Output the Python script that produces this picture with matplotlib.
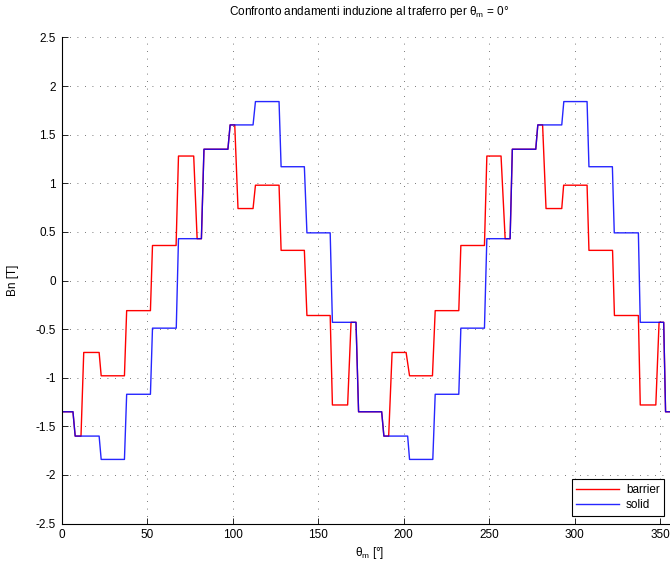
import numpy as np
import matplotlib
matplotlib.use("Agg")
import matplotlib.pyplot as plt

plt.rcParams['font.family'] = ['Liberation Sans', 'DejaVu Sans']
plt.rcParams['mathtext.fontset'] = 'custom'
plt.rcParams['mathtext.rm'] = 'Liberation Sans'
plt.rcParams['mathtext.it'] = 'Liberation Sans'
plt.rcParams['mathtext.bf'] = 'Liberation Sans:bold'

# Step edges of each waveform: (start, end) angle of every transition, in degrees
solid_edges = [(6.7, 8.0), (22.0, 23.2), (36.8, 38.1), (52.0, 53.2), (67.1, 68.4), (81.8, 83.3),
               (97.3, 98.6), (112.0, 113.4), (127.2, 128.4), (142.0, 143.5), (157.1, 158.4), (172.2, 173.7),
               (187.2, 188.5), (202.4, 203.5), (217.1, 218.5), (232.3, 233.5), (247.3, 248.7), (262.3, 263.6),
               (277.3, 278.5), (292.5, 293.7), (307.3, 308.4), (322.1, 323.2), (337.3, 338.4), (352.1, 353.2)]
solid_levels = [-1.35,
                -1.60, -1.84, -1.17, -0.49, 0.43, 1.35, 1.60, 1.84, 1.17, 0.49, -0.43, -1.35,
                -1.60, -1.84, -1.17, -0.49, 0.43, 1.35, 1.60, 1.84, 1.17, 0.49, -0.43, -1.35]

barrier_edges = [(6.7, 8.0), (11.4, 13.0), (22.0, 23.2), (36.8, 38.1), (52.0, 53.2), (67.0, 68.4),
                 (77.3, 79.3), (81.8, 83.3), (97.3, 98.6), (101.3, 103.2), (112.0, 113.4), (127.2, 128.4),
                 (142.0, 143.5), (157.1, 158.4), (167.3, 169.3), (172.2, 173.7),
                 (187.2, 188.5), (191.3, 193.3), (201.5, 203.5), (216.9, 218.5), (232.3, 233.5), (247.3, 248.7),
                 (257.0, 259.4), (262.3, 263.6), (277.3, 278.5), (281.3, 283.3), (292.5, 293.6), (307.3, 308.4),
                 (322.2, 323.3), (337.3, 338.4), (347.5, 349.4), (352.1, 353.2)]
barrier_levels = [-1.35,
                  -1.60, -0.74, -0.98, -0.31, 0.36, 1.28, 0.43, 1.35, 1.60, 0.74, 0.98, 0.31,
                  -0.36, -1.28, -0.43, -1.35,
                  -1.60, -0.74, -0.98, -0.31, 0.36, 1.28, 0.43, 1.35, 1.60, 0.74, 0.98, 0.31,
                  -0.36, -1.28, -0.43, -1.35]

x_ticks = [0, 50, 100, 150, 200, 250, 300, 350]
y_ticks = [-2.5, -2, -1.5, -1, -0.5, 0, 0.5, 1, 1.5, 2, 2.5]
y_ticklabels = ['-2.5', '-2', '-1.5', '-1', '-0.5', '0', '0.5', '1', '1.5', '2', '2.5']


def staircase(edges, levels, x_end=360.0):
    """Build polyline vertices for a stepped waveform with short linear ramps."""
    xs, ys = [0.0], [levels[0]]
    for (a, b), lo, hi in zip(edges, levels[:-1], levels[1:]):
        xs += [a, b]
        ys += [lo, hi]
    xs.append(x_end)
    ys.append(levels[-1])
    return np.array(xs), np.array(ys)


fig = plt.figure(figsize=(6.70, 5.65), dpi=100)
ax = fig.add_axes([61.5 / 670, 41.4 / 565, 615.7 / 670, 486.2 / 565])

xb, yb = staircase(barrier_edges, barrier_levels)
xs, ys = staircase(solid_edges, solid_levels)
ax.plot(xb, yb, color='#ff0000', lw=1.0, label='barrier')
ax.plot(xs, ys, color='#0000ff', lw=1.0, alpha=0.85, label='solid')

ax.set_xlim(0, 360)
ax.set_ylim(-2.5, 2.5)
ax.set_xticks(x_ticks)
ax.set_yticks(y_ticks)
ax.set_yticklabels(y_ticklabels)

for side in ('top', 'right'):
    ax.spines[side].set_visible(False)
for side in ('left', 'bottom'):
    ax.spines[side].set_linewidth(0.8)
    ax.spines[side].set_color('black')

ax.tick_params(direction='in', length=4, width=0.6, labelsize=8.5, colors='black', pad=4)
ax.grid(True, color='0.3', linestyle=(0, (1, 8)), linewidth=0.6)
ax.set_axisbelow(True)

ax.set_title(r'Confronto andamenti induzione al traferro per $\theta_\mathrm{m}$ = 0°',
             fontsize=8.5, pad=16)
ax.set_xlabel(r'$\theta_\mathrm{m}$ [°]', fontsize=8.5, labelpad=3)
ax.set_ylabel('Bn [T]', fontsize=8.5, labelpad=12)

leg = ax.legend(loc='lower left', bbox_to_anchor=(571.7 / 670, 49 / 565),
                bbox_transform=fig.transFigure, borderaxespad=0,
                fancybox=False, framealpha=1, edgecolor='black', fontsize=8.5,
                handlelength=3.6, handletextpad=0.6, borderpad=0.4, labelspacing=0.3)
leg.get_frame().set_linewidth(0.8)

fig.savefig('out.png', dpi=100)
